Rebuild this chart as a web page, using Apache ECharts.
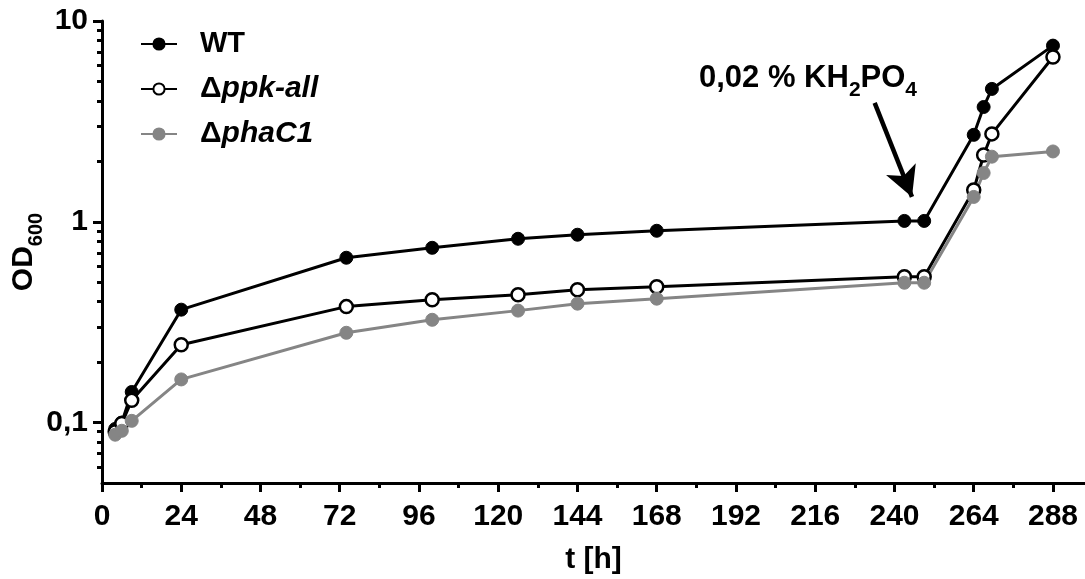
<!DOCTYPE html>
<html><head><meta charset="utf-8">
<script src="https://cdn.jsdelivr.net/npm/echarts@6/dist/echarts.min.js"></script>
<style>html,body{margin:0;padding:0;background:#fff}#c{width:1085px;height:579px}</style>
</head><body><div id="c"></div>
<script>
// ---- data ----
const times  = [4, 6, 9, 24, 74, 100, 126, 144, 168, 243, 249, 264, 267, 269.5, 288];
const wt     = [0.093, 0.100, 0.142, 0.365, 0.662, 0.742, 0.823, 0.862, 0.902, 1.01, 1.01, 2.71, 3.73, 4.59, 7.54];
const ppkAll = [0.090, 0.099, 0.129, 0.244, 0.378, 0.409, 0.433, 0.459, 0.475, 0.533, 0.533, 1.44, 2.15, 2.74, 6.62];
const phaC1  = [0.087, 0.091, 0.102, 0.164, 0.280, 0.325, 0.361, 0.391, 0.414, 0.497, 0.497, 1.33, 1.75, 2.11, 2.24];
const seriesNames = ['WT', 'Δppk-all', 'ΔphaC1'];
const xTicks = [0, 24, 48, 72, 96, 120, 144, 168, 192, 216, 240, 264, 288];
const xMinorTicks = [12, 36, 60, 84, 108, 132, 156, 180, 204, 228, 252, 276];
const yTicks = [0.1, 1, 10];
const yMinorTicks = [0.06, 0.07, 0.08, 0.09, 0.2, 0.3, 0.4, 0.5, 0.6, 0.7, 0.8, 0.9, 2, 3, 4, 5, 6, 7, 8, 9];
const arrowFrom = [234, 3.91];
const arrowTo = [245.3, 1.33];

// ---- chart ----
const FONT = '"Liberation Sans", Arial, sans-serif';
const pairs = (vals) => times.map((t, i) => [t, vals[i]]);
const chart = echarts.init(document.getElementById('c'), null, {renderer: 'canvas'});

const baseAxisX = {type: 'value', min: 0, max: 297.7, splitLine: {show: false}};
const baseAxisY = {type: 'log', logBase: 10, min: 0.05, max: 10, splitLine: {show: false}};

const legendRich = {
  n: {fontFamily: FONT, fontSize: 29, fontWeight: 'bold', color: '#000', lineHeight: 30},
  d: {fontFamily: FONT, fontSize: 30, fontWeight: 'bold', color: '#000', lineHeight: 30},
  i: {fontFamily: FONT, fontSize: 30, fontWeight: 'bold', fontStyle: 'italic', color: '#000', lineHeight: 30}
};

const option = {
  animation: false,
  backgroundColor: '#fff',
  grid: {left: 102, top: 21, right: 0, bottom: 96, containLabel: false, outerBoundsMode: 'none'},
  legend: {
    orient: 'vertical', left: 135, top: 24,
    itemWidth: 36, itemHeight: 14, itemGap: 15,
    data: seriesNames,
    formatter: (name) => name.charAt(0) === 'Δ' ? '{d|Δ}{i|' + name.slice(1) + '}' : '{n|' + name + '}',
    textStyle: {padding: [0, 0, 0, 18], lineHeight: 30, rich: legendRich}
  },
  xAxis: [
    Object.assign({}, baseAxisX, {
      name: 't [h]', nameLocation: 'middle', nameGap: 62, nameMoveOverlap: false,
      nameTextStyle: {fontFamily: FONT, fontSize: 30, fontWeight: 'bold', color: '#000'},
      axisLine: {lineStyle: {color: '#000', width: 3}},
      axisTick: {customValues: xTicks, length: 9, lineStyle: {color: '#000', width: 3}},
      axisLabel: {customValues: xTicks, fontFamily: FONT, fontSize: 30, fontWeight: 'bold', color: '#000', margin: 19}
    }),
    Object.assign({}, baseAxisX, {
      position: 'bottom', offset: 0,
      axisLine: {show: false},
      axisTick: {customValues: xMinorTicks, length: 5, lineStyle: {color: '#000', width: 3}},
      axisLabel: {show: false}
    })
  ],
  yAxis: [
    Object.assign({}, baseAxisY, {
      name: '{a|OD}{s|600}', nameLocation: 'middle', nameGap: 56, nameRotate: 90, nameMoveOverlap: false,
      nameTextStyle: {rich: {
        a: {fontFamily: FONT, fontSize: 30, fontWeight: 'bold', color: '#000', lineHeight: 44},
        s: {fontFamily: FONT, fontSize: 20, fontWeight: 'bold', color: '#000', lineHeight: 20, verticalAlign: 'bottom'}
      }},
      axisLine: {lineStyle: {color: '#000', width: 3}},
      axisTick: {customValues: yTicks, length: 9, lineStyle: {color: '#000', width: 3}},
      axisLabel: {customValues: yTicks, fontFamily: FONT, fontSize: 30, fontWeight: 'bold', color: '#000', margin: 14,
        formatter: (v) => String(+v.toPrecision(3)).replace('.', ',')}
    }),
    Object.assign({}, baseAxisY, {
      position: 'left', offset: 0,
      axisLine: {show: false},
      axisTick: {customValues: yMinorTicks, length: 5, lineStyle: {color: '#000', width: 3}},
      axisLabel: {show: false}
    })
  ],
  series: [
    {
      name: seriesNames[0], type: 'line', data: pairs(wt),
      symbol: 'circle', symbolSize: 13,
      lineStyle: {color: '#000', width: 3},
      itemStyle: {color: '#000', borderColor: '#000', borderWidth: 1},
      markLine: {
        silent: true, animation: false,
        symbol: ['none', 'arrow'], symbolSize: [24, 30],
        label: {show: false},
        lineStyle: {color: '#000', width: 4.5, type: 'solid'},
        data: [[{coord: arrowFrom}, {coord: arrowTo}]]
      }
    },
    {
      name: seriesNames[1], type: 'line', data: pairs(ppkAll),
      symbol: 'circle', symbolSize: 13,
      lineStyle: {color: '#000', width: 3},
      itemStyle: {color: '#fff', borderColor: '#000', borderWidth: 2.5}
    },
    {
      name: seriesNames[2], type: 'line', data: pairs(phaC1),
      symbol: 'circle', symbolSize: 13,
      lineStyle: {color: '#858585', width: 3},
      itemStyle: {color: '#858585', borderColor: '#858585', borderWidth: 1}
    }
  ],
  graphic: [{
    type: 'text', left: 699, top: 63, silent: true,
    style: {
      text: '{a|0,02 % KH}{s|2}{a|PO}{s|4}',
      rich: {
        a: {fontFamily: FONT, fontSize: 31, fontWeight: 'bold', fill: '#000', lineHeight: 44},
        s: {fontFamily: FONT, fontSize: 21, fontWeight: 'bold', fill: '#000', lineHeight: 21, verticalAlign: 'bottom'}
      }
    }
  }]
};
chart.setOption(option);
</script>
</body></html>
